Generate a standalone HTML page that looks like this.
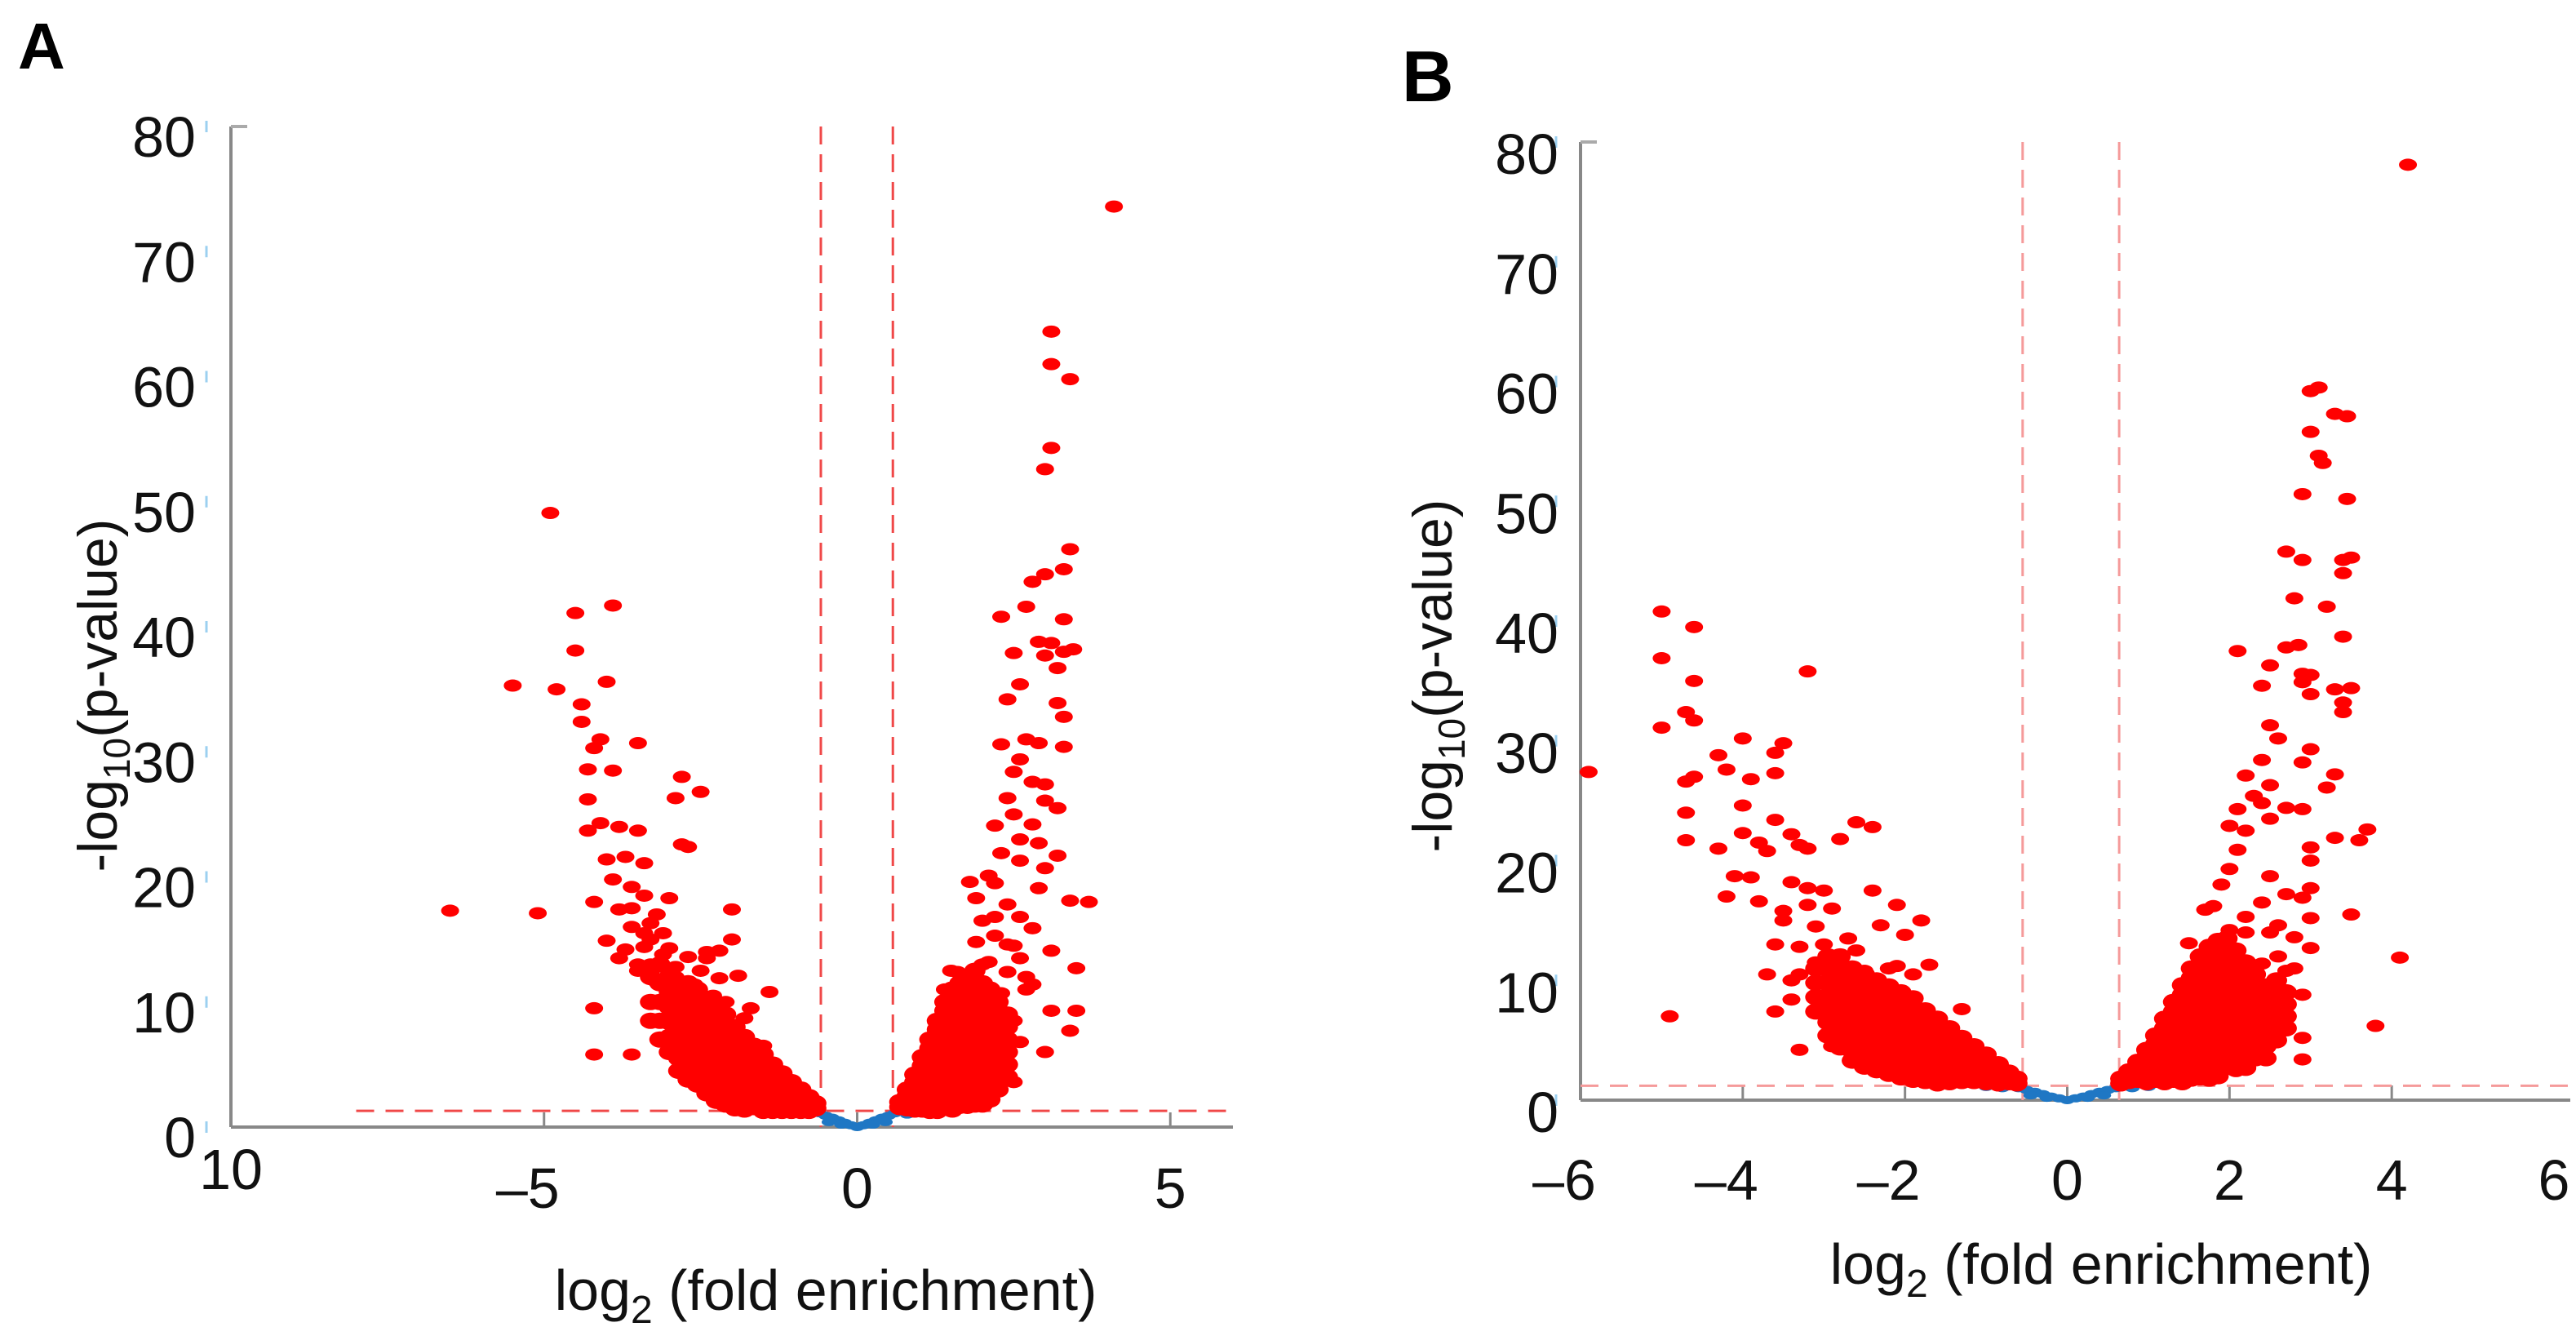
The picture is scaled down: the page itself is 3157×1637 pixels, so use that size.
<!DOCTYPE html>
<html><head><meta charset="utf-8"><style>
html,body{margin:0;padding:0;background:#fff;}
svg{display:block;font-family:"Liberation Sans",Arial,sans-serif;}
</style></head><body>
<svg id="fig" width="3157" height="1637" viewBox="0 0 3157 1637" xmlns="http://www.w3.org/2000/svg">
<rect width="3157" height="1637" fill="#fff"/>
<text x="22" y="84" font-size="80" font-weight="bold">A</text>
<text x="1718" y="124" font-size="88" font-weight="bold">B</text>
<g id="pa"></g>
<g id="pb"></g>
</svg>
<script>
// ---------- Panel A data ----------
const aTicksX = [-10, -5, 0, 5];
const aTickLabelsX = ["10", "\u20135", "0", "5"];
const aTicksY = [0, 10, 20, 30, 40, 50, 60, 70, 80];
const aRedX = [-6.5,-5.1,-5.5,-4.9,-4.8,-4.5,-4.5,-4.4,-4.4,-3.9,-4.0,-4.2,-4.1,-3.5,-4.3,-3.9,-4.3,-2.8,-2.9,-2.5,-4.3,-4.1,-3.8,-3.5,-2.8,-2.7,-4.0,-3.7,-3.4,-3.9,-3.6,-3.4,-4.2,-3.8,-3.6,-3.3,-3.0,-2.0,-4.0,-3.7,-3.4,-3.0,-2.7,-2.4,-2.0,-2.2,-1.9,-4.2,-4.2,-3.6,-1.4,-3.5,-3.2,-2.9,-2.6,-2.2,-1.8,-3.3,-3.1,-2.5,-2.3,-3.8,-3.5,-3.3,-3.1,-3.6,-3.4,-3.2,-2.9,-2.4,-2.1,-1.7,-1.5,
 4.1,3.1,3.1,3.4,3.1,3.0,3.4,2.8,3.0,3.3,2.3,2.7,3.3,2.9,3.1,3.3,3.45,2.5,3.0,3.2,2.6,2.4,3.2,3.3,2.7,2.3,2.9,3.3,2.6,2.5,2.8,3.0,2.4,3.0,3.2,2.5,2.8,2.2,2.6,2.9,3.2,2.3,2.6,3.0,2.1,1.8,2.2,2.9,3.4,3.7,1.9,2.4,2.0,2.6,2.8,2.2,1.9,2.4,3.1,2.6,2.0,3.5,2.4,1.6,2.8,2.3,1.9,3.1,3.5,3.4,2.5,2.6,3.0,2.5,2.7,2.1,1.7,2.5,2.7,2.2,1.5,1.4];
const aRedY = [17.3,17.1,35.3,49.1,35.0,41.1,38.1,33.8,32.4,41.7,35.6,30.3,31.0,30.7,28.6,28.5,26.2,28.0,26.3,26.8,23.7,24.3,24.0,23.7,22.6,22.4,21.4,21.6,21.1,19.8,19.2,18.5,18.0,17.4,17.5,16.3,18.3,17.4,14.9,14.2,14.4,14.3,13.6,14.0,15.0,14.1,12.1,9.5,5.8,5.8,10.8,12.5,11.6,12.8,11.4,11.9,8.7,13.0,15.5,12.5,10.5,13.5,13.0,15.0,13.8,16.0,15.5,17.0,12.0,13.5,10.0,9.5,6.5,
 73.6,63.6,61.0,59.8,54.3,52.6,46.2,43.6,44.2,44.6,40.8,41.6,40.6,38.8,38.7,38.0,38.2,37.9,37.7,36.7,35.4,34.2,33.9,32.8,31.0,30.6,30.7,30.4,29.4,28.4,27.6,27.4,26.3,26.1,25.5,25.0,24.2,24.1,23.0,22.7,21.7,21.9,21.3,20.7,20.1,19.6,19.5,19.1,18.1,18.0,18.3,17.8,16.5,16.8,15.9,15.3,14.8,14.6,14.1,13.5,13.0,12.7,12.4,12.4,11.4,10.7,10.1,9.3,9.3,7.7,8.5,6.8,6.0,3.6,12.0,13.2,11.5,14.5,11.0,16.8,12.5,11.0];
const aDenseX = [-3.3,-3.15,-3.0,-2.85,-2.7,-2.55,-2.4,-2.25,-2.1,-1.95,-1.8,-1.65,-1.5,-1.35,-1.2,-1.05,-0.9,-0.77,-0.66,
 0.68,0.8,0.92,1.04,1.16,1.28,1.4,1.52,1.64,1.76,1.88,2.0,2.12,2.25,2.4];
const aDenseY = [[12,10,8.5],[13,11.5,10,8.5,7],[12,10.8,9.6,8.4,7.2,6],[11.5,10.5,9.5,8.5,7.5,6.5,5.5,4.5],[11.5,10.5,9.5,8.5,7.5,6.5,5.5,4.6,3.8],[11,10,9,8,7,6,5,4.2,3.4],[10,9,8,7,6,5,4.2,3.4,2.7],[9.5,8.6,7.7,6.8,5.9,5,4.2,3.4,2.7,2.1],[9,8.1,7.2,6.3,5.4,4.6,3.8,3.1,2.4,1.8],[8,7.2,6.4,5.6,4.8,4,3.3,2.6,2,1.5],[7.2,6.5,5.8,5.1,4.4,3.7,3,2.4,1.8,1.4],[6.5,5.8,5.1,4.5,3.9,3.3,2.7,2.1,1.6],[5.8,5.1,4.5,3.9,3.3,2.7,2.2,1.7,1.3],[5,4.4,3.8,3.2,2.7,2.2,1.7,1.3],[4.3,3.7,3.1,2.6,2.1,1.7,1.3],[3.6,3.1,2.6,2.1,1.7,1.3],[3,2.5,2.1,1.7,1.3],[2.4,2,1.6,1.3],[1.9,1.5],
 [2,1.6],[3,2.5,2,1.5],[4.2,3.6,3,2.4,1.9,1.4],[5.6,4.9,4.2,3.5,2.9,2.3,1.8,1.4],[7,6.3,5.6,4.9,4.2,3.5,2.9,2.3,1.7,1.3],[8.5,7.8,7.1,6.4,5.7,5,4.3,3.6,2.9,2.3,1.7,1.3],[10,9.3,8.6,7.9,7.2,6.5,5.8,5.1,4.4,3.7,3,2.3,1.7],[11,10.3,9.6,8.9,8.2,7.5,6.8,6.1,5.4,4.7,4,3.3,2.6,1.9,1.4],[11.5,10.8,10.1,9.4,8.7,8,7.3,6.6,5.9,5.2,4.5,3.8,3.1,2.4,1.7],[12,11.2,10.4,9.6,8.8,8,7.2,6.4,5.6,4.8,4,3.2,2.4,1.7],[12.5,11.6,10.7,9.8,8.9,8,7.1,6.2,5.3,4.4,3.5,2.6,1.8],[11.5,10.6,9.7,8.8,7.9,7,6.1,5.2,4.3,3.4,2.5,1.8],[11,10,9,8,7,6,5,4,3,2.2],[10,9,8,7,6,5,4,3],[9,8,7,6,5,4]];
const aBlueX = [-0.6,-0.5,-0.4,-0.3,-0.2,-0.1,0,0.1,0.2,0.3,0.4,0.5,0.6,-0.45,-0.25,0.25,0.45,-0.8,-1.1,0.8,1.1];
const aBlueY = [1.1,0.9,0.75,0.55,0.35,0.15,0,0.15,0.35,0.55,0.75,0.9,1.1,0.4,0.2,0.2,0.4,1.0,1.1,1.0,1.1];

// ---------- Panel B data ----------
const bTicksX = [-6, -4, -2, 0, 2, 4, 6];
const bTickLabelsX = ["\u20136", "\u20134", "\u20132", "0", "2", "4", "6"];
const bTicksY = [0, 10, 20, 30, 40, 50, 60, 70, 80];
const bRedX = [-5.9,-5.0,-5.0,-4.6,-4.6,-5.0,-4.7,-4.6,-4.3,-4.0,-4.2,-4.7,-4.6,-3.9,-3.6,-3.5,-3.6,-3.2,-4.0,-4.7,-3.6,-3.4,-3.3,-4.0,-3.8,-3.7,-4.7,-4.3,-2.8,-2.6,-2.4,-3.2,-4.1,-3.9,-3.4,-3.2,-3.0,-4.2,-3.8,-3.5,-3.2,-2.9,-2.4,-2.1,-3.6,-3.3,-3.0,-2.7,-2.3,-2.0,-1.8,-4.9,-3.6,-3.4,-3.7,-3.3,-2.9,-2.5,-2.1,-1.7,-3.3,-2.9,-2.8,-1.3,-2.6,-3.5,-3.1,-2.9,-2.6,-2.2,-1.9,-3.4,-3.1,
 4.2,3.0,3.1,3.3,3.45,3.0,3.1,3.15,2.9,3.45,2.7,2.9,3.5,3.4,3.4,2.8,3.2,3.4,2.1,2.7,2.85,2.5,2.9,3.0,2.4,2.9,3.0,3.3,3.5,3.4,3.4,2.5,2.6,3.0,2.4,2.9,2.2,3.3,2.5,2.3,2.4,2.7,2.9,3.2,2.1,2.0,2.2,2.5,3.0,3.3,3.6,3.7,2.1,3.0,2.0,2.5,1.9,2.7,3.0,2.9,1.8,2.4,3.5,1.7,2.2,2.6,3.0,2.0,2.5,1.5,1.9,2.8,3.0,4.1,2.4,2.7,3.8,2.9,2.5,2.9,2.9,2.3,2.6,2.8,2.2];
const bRedY = [27.4,40.8,36.9,39.5,35.0,31.1,32.4,31.7,28.8,30.2,27.6,26.6,27.0,26.8,27.3,29.8,29.0,35.8,24.6,24.0,23.4,22.2,21.3,22.3,21.5,20.8,21.7,21.0,21.8,23.2,22.8,21.0,18.7,18.6,18.2,17.7,17.5,17.0,16.6,15.8,16.3,16.0,17.5,16.3,13.0,12.8,13.0,13.5,14.6,13.8,15.0,7.0,7.4,8.4,10.5,10.5,9.5,10.8,11.2,11.3,4.2,4.5,4.4,7.6,8.0,15.0,14.5,12.0,12.5,11.0,10.5,10.0,11.5,
 78.1,59.2,59.5,57.3,57.1,55.8,53.8,53.2,50.6,50.2,45.8,45.1,45.3,45.1,44.0,41.9,41.2,38.7,37.5,37.8,38.0,36.3,35.6,35.5,34.6,34.9,33.9,34.3,34.4,33.2,32.4,31.3,30.2,29.3,28.4,28.2,27.1,27.2,26.3,25.4,24.8,24.4,24.3,26.1,24.3,22.9,22.5,23.5,21.1,21.9,21.7,22.6,20.9,20.0,19.3,18.7,18.0,17.2,17.7,16.9,16.2,16.5,15.5,15.9,15.3,14.6,15.2,14.2,14.0,13.1,13.3,13.6,12.7,11.9,11.4,10.8,6.2,8.8,7.9,5.2,3.4,4.9,12.0,11.0,14.0];
const bDenseX = [-3.1,-2.95,-2.8,-2.65,-2.5,-2.35,-2.2,-2.05,-1.9,-1.75,-1.6,-1.45,-1.3,-1.15,-1.0,-0.85,-0.72,-0.62,
 0.66,0.76,0.87,0.98,1.09,1.2,1.31,1.42,1.53,1.64,1.75,1.86,1.97,2.08,2.2,2.32,2.45,2.58,2.7];
const bDenseY = [[11,9.8,8.6,7.4],[12,10.9,9.8,8.7,7.6,6.5,5.4],[12,10.9,9.8,8.7,7.6,6.5,5.4,4.4],[11,10,9,8,7,6,5,4.1,3.3],[10.5,9.6,8.7,7.8,6.9,6,5.1,4.3,3.5,2.8],[10,9.1,8.2,7.3,6.4,5.5,4.7,3.9,3.2,2.5],[9.5,8.6,7.7,6.8,5.9,5.1,4.3,3.5,2.8,2.2],[9,8.1,7.2,6.3,5.5,4.7,3.9,3.2,2.5,1.9],[8.5,7.6,6.8,6,5.2,4.4,3.6,2.9,2.3,1.7],[7.5,6.8,6.1,5.4,4.7,4,3.3,2.7,2.1,1.6],[6.8,6.1,5.4,4.8,4.2,3.6,3,2.4,1.9,1.4],[6,5.4,4.8,4.2,3.6,3,2.5,2,1.5],[5.2,4.6,4,3.5,3,2.5,2,1.6],[4.5,3.9,3.4,2.9,2.4,2,1.6],[3.8,3.3,2.8,2.3,1.9,1.5],[3,2.5,2.1,1.7,1.4],[2.3,1.9,1.5],[1.8,1.4],
 [1.8,1.4],[2.4,2,1.6],[3.2,2.7,2.2,1.7],[4.2,3.6,3,2.4,1.9,1.5],[5.4,4.7,4,3.4,2.8,2.2,1.7],[6.8,6,5.3,4.6,3.9,3.2,2.6,2,1.5],[8.2,7.4,6.6,5.8,5,4.3,3.6,2.9,2.3,1.7],[9.6,8.8,8,7.2,6.4,5.6,4.8,4.1,3.4,2.7,2,1.5],[11,10.2,9.4,8.6,7.8,7,6.2,5.4,4.6,3.8,3.1,2.4,1.8],[12,11.2,10.4,9.6,8.8,8,7.2,6.4,5.6,4.8,4,3.3,2.6,1.9],[12.8,12,11.2,10.4,9.6,8.8,8,7.2,6.4,5.6,4.8,4,3.2,2.5,1.8],[13.3,12.4,11.5,10.6,9.7,8.8,7.9,7,6.1,5.2,4.3,3.5,2.7,2],[13.5,12.6,11.7,10.8,9.9,9,8.1,7.2,6.3,5.4,4.5,3.6,2.8],[12.5,11.6,10.7,9.8,8.9,8,7.1,6.2,5.3,4.4,3.5,2.6],[11.5,10.5,9.5,8.5,7.5,6.5,5.5,4.5,3.5,2.7],[10.5,9.5,8.5,7.5,6.5,5.5,4.5,3.5],[9.5,8.5,7.5,6.5,5.5,4.5,3.5],[10,9,8,7,6,5],[9,8,7,6]];
const bBlueX = [-0.6,-0.5,-0.4,-0.3,-0.2,-0.1,0,0.1,0.2,0.3,0.4,0.5,0.6,-0.45,-0.25,0.25,0.45,-0.8,-1.0,0.8,1.0];
const bBlueY = [1.0,0.85,0.7,0.5,0.3,0.15,0,0.15,0.3,0.5,0.7,0.85,1.0,0.4,0.2,0.2,0.4,1.0,1.1,1.0,1.1];

const NS = "http://www.w3.org/2000/svg";
function mk(parent, tag, attrs, txt) {
  const e = document.createElementNS(NS, tag);
  for (const k in attrs) e.setAttribute(k, attrs[k]);
  if (txt !== undefined) e.textContent = txt;
  parent.appendChild(e);
  return e;
}

function drawPanel(g, cfg, ticksX, tickLabelsX, ticksY, redX, redY, denseX, denseY, blueX, blueY) {
  const sx = v => cfg.x0 + (v - cfg.xmin) / (cfg.xmax - cfg.xmin) * (cfg.x1 - cfg.x0);
  const sy = v => cfg.y0 - v / 80 * (cfg.y0 - cfg.y1);
  const ya = mk(g, "line", {x1: cfg.x0, y1: cfg.y1, x2: cfg.x0, y2: cfg.y0, stroke: "#888", "stroke-width": 4});
  
  
  const xa = mk(g, "line", {x1: cfg.x0, y1: cfg.y0, x2: cfg.axisEnd, y2: cfg.y0, stroke: "#888", "stroke-width": 4});
  
  
  const tt = mk(g, "line", {x1: cfg.x0, y1: cfg.y1, x2: cfg.x0 + 20, y2: cfg.y1, stroke: "#aaa", "stroke-width": 4});
  
  
  ticksY.forEach(v => {
    const t = mk(g, "line", {x1: cfg.x0 - 30, y1: sy(v) - 7, x2: cfg.x0 - 30, y2: sy(v) + 7, stroke: "#9cd0f0", "stroke-width": 3});
    
    
    const l = mk(g, "text", {x: cfg.yLabRight, y: sy(v) + cfg.yLabDy, "font-size": 70, "text-anchor": "end", fill: "#111"}, String(v));
    
    
  });
  ticksX.forEach((v, i) => {
    if (v !== cfg.xmin && v !== cfg.xmax) {
      const t = mk(g, "line", {x1: sx(v), y1: cfg.y0, x2: sx(v), y2: cfg.y0 - 18, stroke: "#888", "stroke-width": 3});
      
      
    }
    const lab = tickLabelsX[i];
    const dx = lab.charAt(0) === "\u2013" ? -20 : 0;
    const dy = (i === 0 && cfg.firstLabDy !== undefined) ? cfg.firstLabDy : cfg.xLabDy;
    const l = mk(g, "text", {x: sx(v) + dx, y: cfg.y0 + dy, "font-size": 70, "text-anchor": "middle", fill: "#111"}, lab);
    
    
  });
  const th = mk(g, "line", {x1: sx(cfg.hStart), y1: sy(cfg.pThr), x2: cfg.hEnd, y2: sy(cfg.pThr), stroke: cfg.dashColor, "stroke-width": 3, "stroke-dasharray": "22 14"});
  
  
  [cfg.fcLo, cfg.fcHi].forEach(v => {
    const vl = mk(g, "line", {x1: sx(v), y1: cfg.y1, x2: sx(v), y2: cfg.y0, stroke: cfg.dashColor, "stroke-width": 3, "stroke-dasharray": "22 12"});
    
    
  });
  for (let i = 0; i < blueX.length; i++) {
    const p = mk(g, "ellipse", {cx: sx(blueX[i]), cy: sy(blueY[i]), rx: 9, ry: 5, fill: "#1f77c4"});
    
    
  }
  for (let i = 0; i < denseX.length; i++) {
    denseY[i].forEach(v => {
      const p = mk(g, "ellipse", {cx: sx(denseX[i]), cy: sy(v), rx: 13, ry: 10, fill: "#ff0000"});
      
      
    });
  }
  for (let i = 0; i < redX.length; i++) {
    const p = mk(g, "ellipse", {cx: sx(redX[i]), cy: sy(redY[i]), rx: 11, ry: 7.5, fill: "#ff0000"});
    
    
  }
  const xt = mk(g, "text", {x: cfg.xtX, y: cfg.xtY, "font-size": 70, "text-anchor": "middle", fill: "#111"});
  
  
  mk(xt, "tspan", {}, "log");
  mk(xt, "tspan", {"font-size": 48, dy: 16}, "2");
  mk(xt, "tspan", {dy: -16}, " (fold enrichment)");
  const yt = mk(g, "text", {x: 0, y: 0, "font-size": 68, "text-anchor": "middle", fill: "#111", transform: "translate(" + cfg.ytX + "," + cfg.ytY + ") rotate(-90)"});
  
  
  mk(yt, "tspan", {}, "-log");
  mk(yt, "tspan", {"font-size": 46, dy: 16}, "10");
  mk(yt, "tspan", {dy: -16}, "(p-value)");
}

drawPanel(document.getElementById("pa"),
  {x0: 283, x1: 1511, axisEnd: 1511, y0: 1381, y1: 155, xmin: -10, xmax: 6, yLabRight: 240, yLabDy: 37,
   xLabDy: 99, firstLabDy: 76, hStart: -8, hEnd: 1511, pThr: 1.3, fcLo: -0.58, fcHi: 0.57,
   dashColor: "#f04848", xtX: 1012, xtY: 1605, ytX: 143, ytY: 852},
  aTicksX, aTickLabelsX, aTicksY, aRedX, aRedY, aDenseX, aDenseY, aBlueX, aBlueY);

drawPanel(document.getElementById("pb"),
  {x0: 1937, x1: 3130, axisEnd: 3150, y0: 1348, y1: 174, xmin: -6, xmax: 6, yLabRight: 1910, yLabDy: 39,
   xLabDy: 122, hStart: -6, hEnd: 3157, pThr: 1.2, fcLo: -0.55, fcHi: 0.64,
   dashColor: "#f59a9a", xtX: 2575, xtY: 1573, ytX: 1779, ytY: 828},
  bTicksX, bTickLabelsX, bTicksY, bRedX, bRedY, bDenseX, bDenseY, bBlueX, bBlueY);
</script>
</body></html>
